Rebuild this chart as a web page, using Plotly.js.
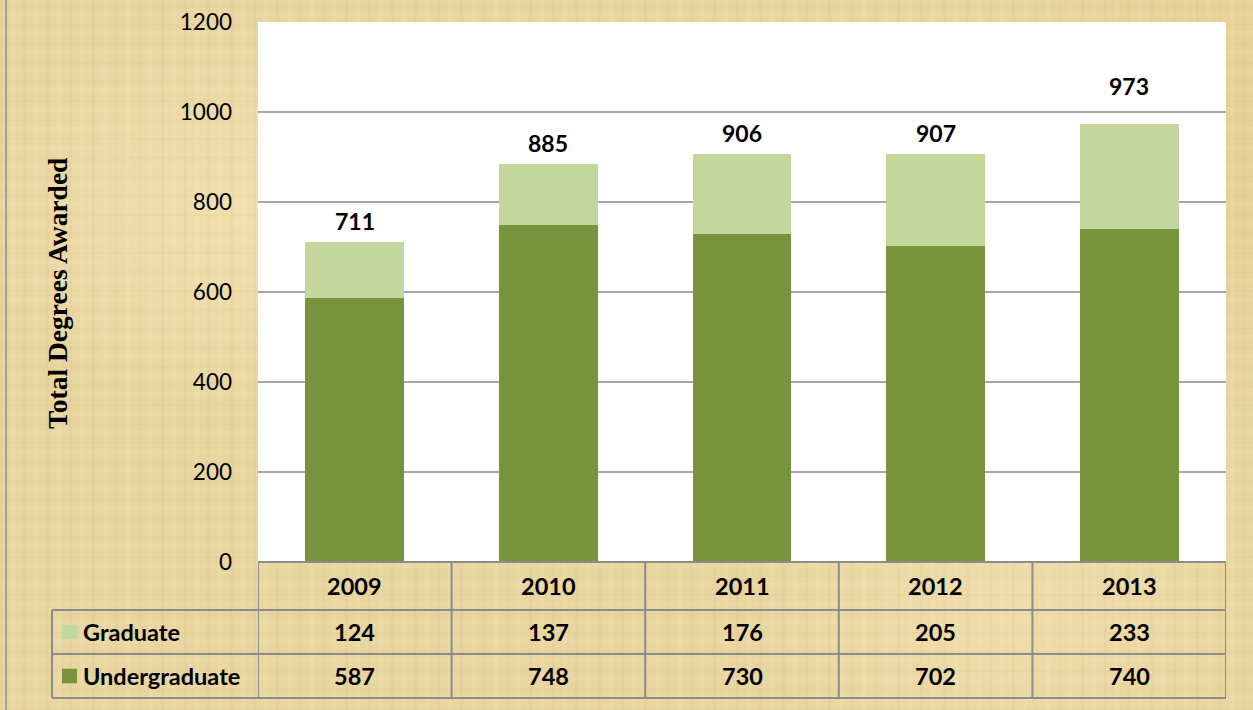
<!DOCTYPE html>
<html>
<head>
<meta charset="utf-8">
<script src="https://cdn.plot.ly/plotly-3.0.1.min.js"></script>
<style>
html,body{margin:0;padding:0;width:1253px;height:710px;overflow:hidden;}
body{
  background-color:#E8D5A0;
  background-image:
    repeating-linear-gradient(90deg, rgba(190,160,90,0.07) 0px, rgba(190,160,90,0.07) 3px, transparent 3px, transparent 11px, rgba(255,245,210,0.10) 11px, rgba(255,245,210,0.10) 15px, transparent 15px, transparent 23px),
    repeating-linear-gradient(0deg, rgba(190,160,90,0.06) 0px, rgba(190,160,90,0.06) 2px, transparent 2px, transparent 9px, rgba(255,245,210,0.08) 9px, rgba(255,245,210,0.08) 14px, transparent 14px, transparent 19px),
    radial-gradient(ellipse 300px 200px at 20% 30%, rgba(250,235,190,0.45), transparent),
    radial-gradient(ellipse 260px 180px at 80% 85%, rgba(250,235,190,0.35), transparent),
    radial-gradient(ellipse 200px 300px at 95% 20%, rgba(225,195,125,0.35), transparent);
}
#chart{width:1253px;height:710px;}
</style>
</head>
<body>
<div id="chart"></div>
<script>
const years = ['2009','2010','2011','2012','2013'];
const graduate = [124, 137, 176, 205, 233];
const undergraduate = [587, 748, 730, 702, 740];
const seriesNames = ['Graduate', 'Undergraduate'];
const yTicks = [0, 200, 400, 600, 800, 1000, 1200];

const totals = years.map((y, i) => graduate[i] + undergraduate[i]);

const colUnder = '#77933C';
const colGrad = '#C3D69B';
const lineCol = '#8C8C8C';
const font = 'Lato, "Open Sans", sans-serif';

const traces = [
  {type:'bar', name:seriesNames[1], x:years, y:undergraduate, marker:{color:colUnder}, hoverinfo:'skip'},
  {type:'bar', name:seriesNames[0], x:years, y:graduate, marker:{color:colGrad}, hoverinfo:'skip'}
];

// table row positions in paper coords (plot height 540px)
const rowHeader = -0.0444, rowGrad = -0.1296, rowUnder = -0.2111;
const lines = [0, -0.0889, -0.1704, -0.2519];
const cellFont = {family:font, size:23.5, color:'#000'};

const pxPerUnit = 540 / 1200;
const annotations = [];
// totals (category axis: index positions); lift a label above a gridline it would otherwise cross
years.forEach((y, i) => {
  const t = totals[i];
  let anchorVal = t, shift = 5;
  const boxTop = t + (5 + 22) / pxPerUnit;
  const crossed = yTicks.find(g => g > t && g < boxTop);
  if (crossed !== undefined) { anchorVal = crossed; shift = 10; }
  annotations.push({
    x:i, y:anchorVal, xref:'x', yref:'y', text:'<b>'+t+'</b>', showarrow:false,
    xanchor:'center', yanchor:'bottom', yshift:shift, font:{family:font, size:23, color:'#000'}
  });
});
// table cells
years.forEach((y, i) => {
  annotations.push({x:i, y:rowHeader, xref:'x', yref:'paper', xanchor:'center', yanchor:'middle', text:'<b>'+y+'</b>', showarrow:false, font:cellFont});
  annotations.push({x:i, y:rowGrad, xref:'x', yref:'paper', xanchor:'center', yanchor:'middle', text:'<b>'+graduate[i]+'</b>', showarrow:false, font:cellFont});
  annotations.push({x:i, y:rowUnder, xref:'x', yref:'paper', xanchor:'center', yanchor:'middle', text:'<b>'+undergraduate[i]+'</b>', showarrow:false, font:cellFont});
});
const pxl = px => (px-258)/968;
// row labels
annotations.push({x:pxl(81), y:rowGrad, xref:'paper', yref:'paper', xanchor:'left', yanchor:'middle', text:'<b>'+seriesNames[0]+'</b>', showarrow:false, font:cellFont});
annotations.push({x:pxl(81), y:rowUnder, xref:'paper', yref:'paper', xanchor:'left', yanchor:'middle', text:'<b>'+seriesNames[1]+'</b>', showarrow:false, font:cellFont});
// y title
annotations.push({x:pxl(57), y:(562-294)/540, xref:'paper', yref:'paper', xanchor:'center', yanchor:'middle', text:'<b>Total Degrees Awarded</b>', textangle:-90, showarrow:false, font:{family:'"Liberation Serif", "Times New Roman", serif', size:27.5, color:'#000'}});

const shapes = [];
// horizontal table lines
shapes.push({type:'line', xref:'paper', yref:'paper', x0:0, x1:1, y0:lines[0], y1:lines[0], line:{color:lineCol, width:2}});
[1,2,3].forEach(k => shapes.push({type:'line', xref:'paper', yref:'paper', x0:pxl(52), x1:1, y0:lines[k], y1:lines[k], line:{color:lineCol, width:2}}));
// vertical table lines at category boundaries
for (let i = 0; i <= years.length; i++) {
  shapes.push({type:'line', xref:'x', yref:'paper', x0:i-0.5, x1:i-0.5, y0:0, y1:lines[3], line:{color:lineCol, width:2}});
}
shapes.push({type:'line', xref:'paper', yref:'paper', x0:pxl(52), x1:pxl(52), y0:lines[1], y1:lines[3], line:{color:lineCol, width:2}});
// legend swatches
shapes.push({type:'rect', xref:'paper', yref:'paper', x0:pxl(62), x1:pxl(77), y0:rowGrad-0.0135, y1:rowGrad+0.0135, fillcolor:colGrad, line:{width:0}});
shapes.push({type:'rect', xref:'paper', yref:'paper', x0:pxl(62), x1:pxl(77), y0:rowUnder-0.0135, y1:rowUnder+0.0135, fillcolor:colUnder, line:{width:0}});
// outer left border of chart
shapes.push({type:'line', xref:'paper', yref:'paper', x0:pxl(6), x1:pxl(6), y0:1.05, y1:-0.28, line:{color:'#A0A0A0', width:2}});

const layout = {
  width:1253, height:710,
  margin:{l:258, r:27, t:22, b:148},
  paper_bgcolor:'rgba(0,0,0,0)',
  plot_bgcolor:'#FFFFFF',
  barmode:'stack',
  bargap:0.49,
  showlegend:false,
  xaxis:{type:'category', showticklabels:false, showgrid:false, zeroline:false, showline:false, ticks:'', range:[-0.5, 4.5]},
  yaxis:{range:[0,1200], tickvals:yTicks, ticktext:yTicks.map(String), showgrid:true, gridcolor:'#A6A6A6', gridwidth:1.5,
         zeroline:false, showline:false, ticks:'', ticklabelstandoff:25,
         tickfont:{family:font, size:22.5, color:'#000'}},
  annotations:annotations,
  shapes:shapes
};

Plotly.newPlot('chart', traces, layout, {displayModeBar:false, staticPlot:true});
</script>
</body>
</html>
